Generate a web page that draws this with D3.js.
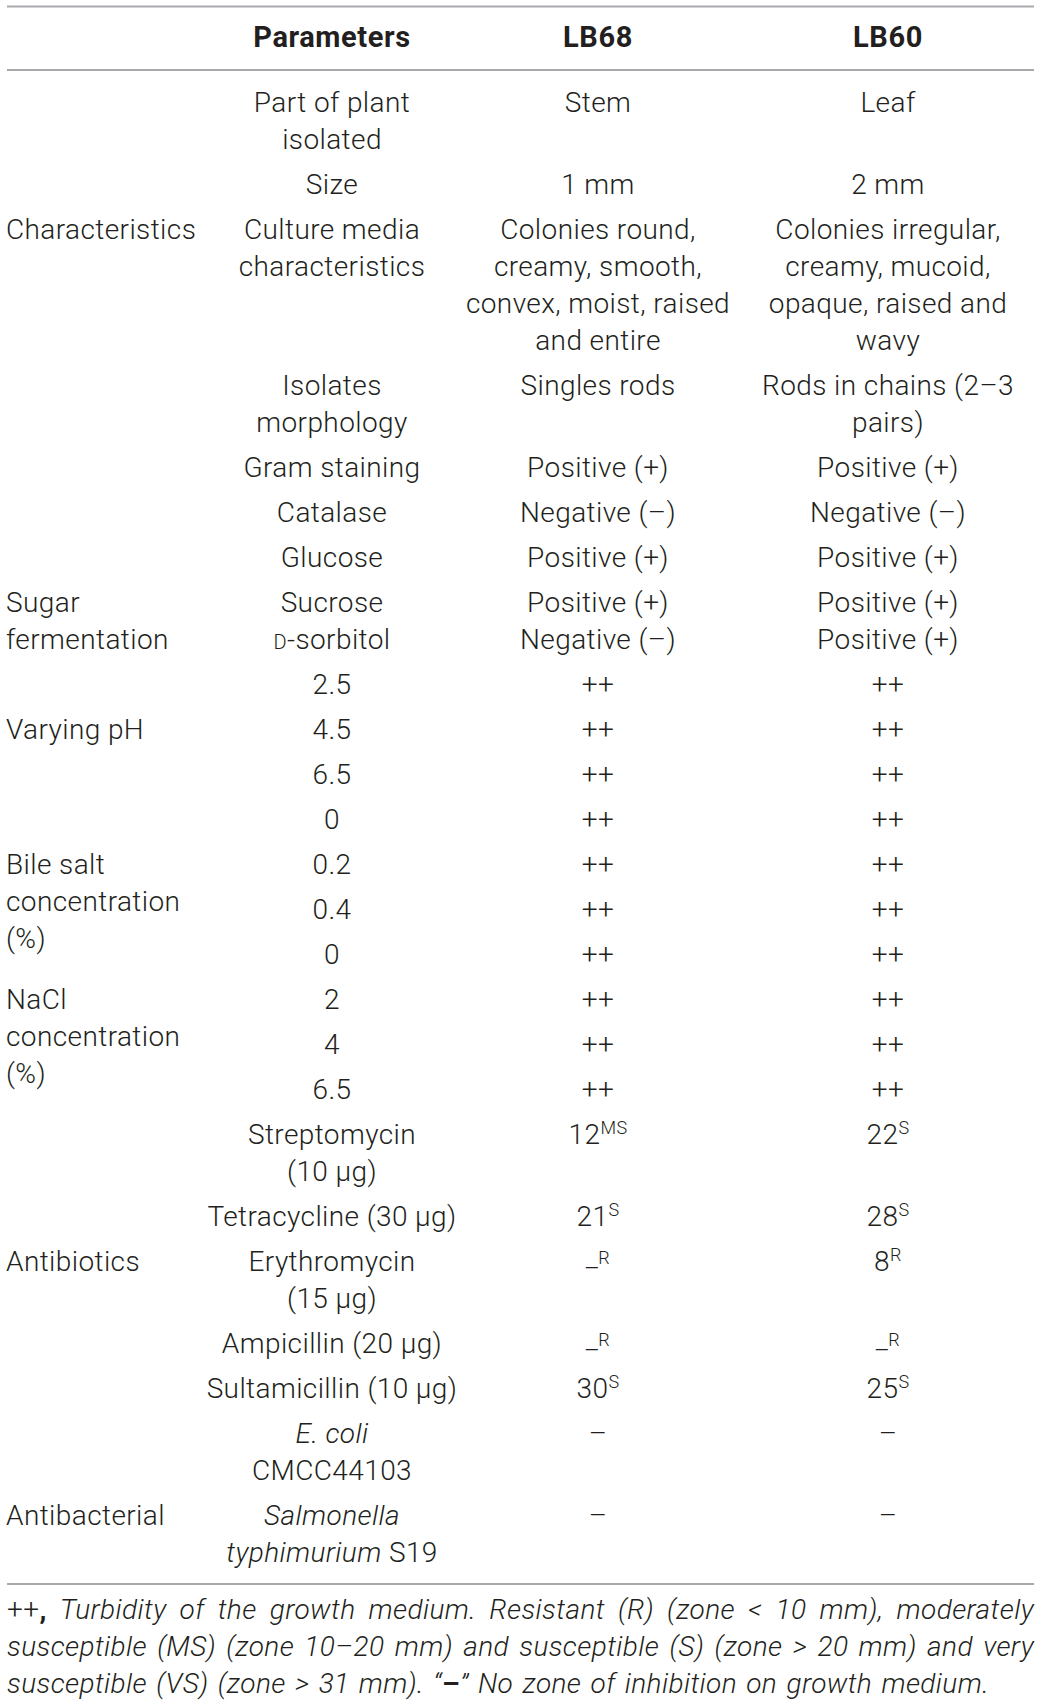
<!DOCTYPE html>
<html>
<head>
<meta charset="utf-8">
<script src="https://cdn.jsdelivr.net/npm/d3@7"></script>
<style>
  body { margin: 0; background: #fff; }
  svg text { fill: #231f20; }
</style>
</head>
<body>
<script>
// column headers
const headers = ["Parameters", "LB68", "LB60"];

// group label (left column), "|" = line break; blank = none on that row
const groupLabels = ["", "", "Characteristics", "", "", "", "", "Sugar|fermentation",
  "", "Varying pH", "", "", "Bile salt|concentration|(%)", "", "", "NaCl|concentration|(%)",
  "", "", "", "", "Antibiotics", "", "", "", "Antibacterial"];

// markup: ^{..} superscript, *..* italic, ~..~ small caps
const parameters = ["Part of plant|isolated", "Size", "Culture media|characteristics",
  "Isolates|morphology", "Gram staining", "Catalase", "Glucose", "Sucrose|~D~-sorbitol",
  "2.5", "4.5", "6.5", "0", "0.2", "0.4", "0", "2", "4", "6.5",
  "Streptomycin|(10 μg)", "Tetracycline (30 μg)", "Erythromycin|(15 μg)",
  "Ampicillin (20 μg)", "Sultamicillin (10 μg)", "*E. coli*|CMCC44103",
  "*Salmonella*|*typhimurium* S19"];

const lb68 = ["Stem", "1 mm", "Colonies round,|creamy, smooth,|convex, moist, raised|and entire",
  "Singles rods", "Positive (+)", "Negative (–)", "Positive (+)", "Positive (+)|Negative (–)",
  "++", "++", "++", "++", "++", "++", "++", "++", "++", "++",
  "12^{MS}", "21^{S}", "_^{R}", "_^{R}", "30^{S}", "–", "–"];

const lb60 = ["Leaf", "2 mm", "Colonies irregular,|creamy, mucoid,|opaque, raised and|wavy",
  "Rods in chains (2–3|pairs)", "Positive (+)", "Negative (–)", "Positive (+)", "Positive (+)|Positive (+)",
  "++", "++", "++", "++", "++", "++", "++", "++", "++", "++",
  "22^{S}", "28^{S}", "8^{R}", "_^{R}", "25^{S}", "–", "–"];

// footnote lines, #..# upright, !..! bold
const footnote = [
  "#++#!,! Turbidity of the growth medium. Resistant (R) (zone < 10 mm), moderately",
  "susceptible (MS) (zone 10–20 mm) and susceptible (S) (zone > 20 mm) and very",
  "susceptible (VS) (zone > 31 mm). “!–!” No zone of inhibition on growth medium."
];

const W = 1041, H = 1704;
const FONT = "Roboto, 'Liberation Sans', Arial, sans-serif";
const FS = 28, LS = 0.4;
const lineH = 37, rowStep = 45;

const svg = d3.select("body").append("svg")
  .attr("width", W).attr("height", H)
  .style("font-family", FONT);

const x = d3.scaleOrdinal()
  .domain(["group", "param", "lb68", "lb60"])
  .range([6, 332, 598, 888]);

// row offsets in px, from line counts
const nLines = parameters.map((p, i) =>
  d3.max([p, lb68[i], lb60[i]], s => s.split("|").length));
const offsets = [];
let acc = 0;
nLines.forEach(n => { offsets.push(acc); acc += rowStep + (n - 1) * lineH; });
const y = d3.scaleLinear().domain([0, acc]).range([112, 112 + acc]);  // first row baseline

function rich(textSel, str) {
  const parts = str.split(/(\^\{[^}]*\}|\*[^*]+\*|~[^~]+~|#[^#]+#|![^!]+!)/).filter(s => s);
  let cur = 0, prev = "";
  parts.forEach(p => {
    const t = textSel.append("tspan");
    let txt = p, target = 0;
    if (p.startsWith("^{")) {
      txt = p.slice(2, -1);
      t.attr("font-size", 18);
      target = prev.startsWith("_") ? -7 : -10;
    } else if (p.startsWith("*")) { txt = p.slice(1, -1); t.attr("font-style", "italic"); }
    else if (p.startsWith("~")) { txt = p.slice(1, -1); t.attr("font-size", 20); }
    else if (p.startsWith("#")) { txt = p.slice(1, -1); t.attr("font-style", "normal"); }
    else if (p.startsWith("!")) { txt = p.slice(1, -1); t.attr("font-weight", 700).attr("font-style", "normal"); }
    if (txt.startsWith("_")) target = -4;
    if (target !== cur) { t.attr("dy", target - cur); cur = target; }
    t.text(txt);
    prev = txt;
  });
}

// rules
const rules = [6.5, 70, 1584];
svg.selectAll("line.rule").data(rules).enter().append("line")
  .attr("class", "rule")
  .attr("x1", 7).attr("x2", 1034)
  .attr("y1", d => d).attr("y2", d => d)
  .attr("stroke", "#a7a9ac").attr("stroke-width", 2);

// header
svg.selectAll("text.head").data(headers).enter().append("text")
  .attr("class", "head")
  .attr("x", (d, i) => x(["param", "lb68", "lb60"][i]))
  .attr("y", 47)
  .attr("text-anchor", "middle")
  .attr("font-size", 29).attr("font-weight", 700)
  .attr("letter-spacing", 0.6)
  .text(d => d);

// body cells
const cols = [["param", parameters], ["lb68", lb68], ["lb60", lb60]];
cols.forEach(([key, arr]) => {
  arr.forEach((cell, i) => {
    cell.split("|").forEach((ln, j) => {
      const t = svg.append("text")
        .attr("x", x(key))
        .attr("y", y(offsets[i]) + j * lineH)
        .attr("text-anchor", "middle")
        .attr("font-size", FS).attr("font-weight", 300)
        .attr("letter-spacing", LS);
      rich(t, ln);
    });
  });
});

// group labels
groupLabels.forEach((g, i) => {
  if (!g) return;
  g.split("|").forEach((ln, j) => {
    svg.append("text")
      .attr("x", x("group"))
      .attr("y", y(offsets[i]) + j * lineH)
      .attr("font-size", FS).attr("font-weight", 300)
      .attr("letter-spacing", LS)
      .text(ln);
  });
});

// footnote, justified except last line
const fnLeft = 7, fnRight = 1034;
footnote.forEach((ln, li) => {
  const by = 1619 + li * lineH;
  const words = ln.split(" ");
  const nodes = words.map(w => {
    const t = svg.append("text")
      .attr("y", by)
      .attr("font-size", FS).attr("font-weight", 300).attr("font-style", "italic")
      .attr("letter-spacing", LS);
    rich(t, w);
    return t;
  });
  const widths = nodes.map(n => n.node().getComputedTextLength());
  const total = d3.sum(widths);
  const space = FS * 0.33;
  const gap = li < footnote.length - 1 ? (fnRight - fnLeft - total) / (words.length - 1) : space;
  let cx = fnLeft;
  nodes.forEach((n, k) => { n.attr("x", cx); cx += widths[k] + gap; });
});
</script>
</body>
</html>
